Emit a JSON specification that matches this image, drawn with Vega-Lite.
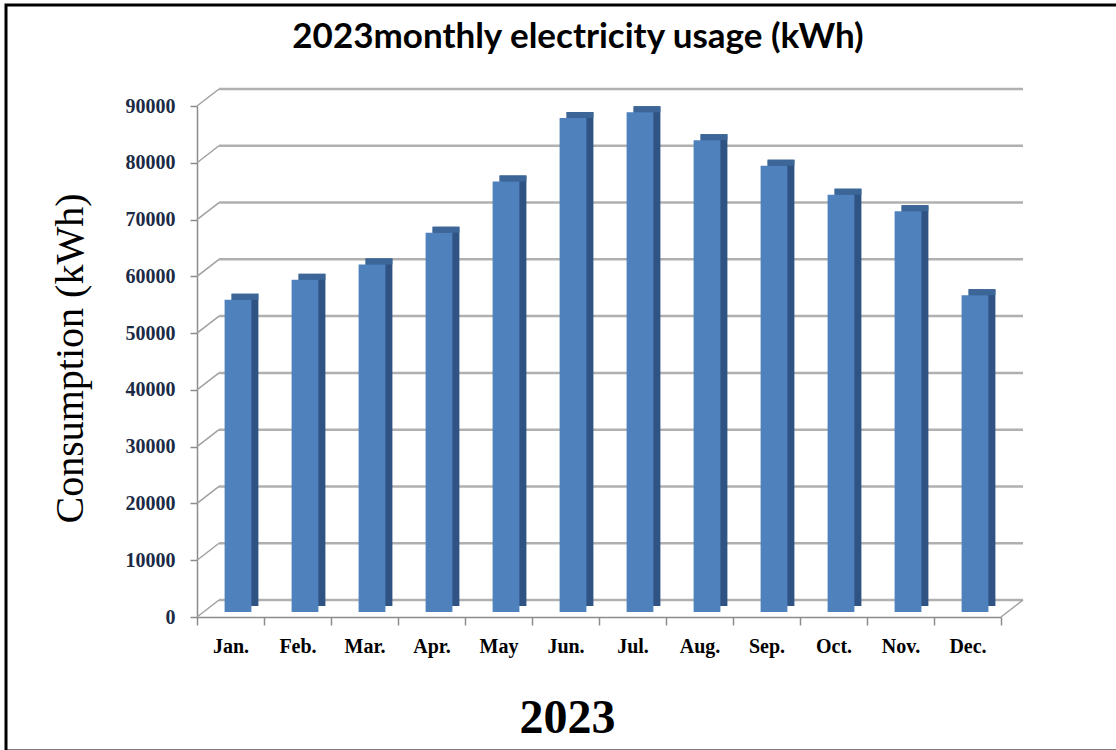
{
  "$schema": "https://vega.github.io/schema/vega-lite/v6.json",
  "autosize": {"type": "none"},
  "padding": {"left": 6, "top": 5, "right": 0, "bottom": 0},
  "width": 1112,
  "height": 746,
  "background": "white",
  "config": {"view": {"stroke": "black", "strokeWidth": 3}},
  "title": {
    "text": "2023monthly electricity usage (kWh)",
    "font": "Lato",
    "fontSize": 35,
    "fontWeight": "bold",
    "color": "black",
    "anchor": "middle",
    "frame": "group",
    "baseline": "alphabetic",
    "offset": -78,
    "dx": 16
  },
  "datasets": {
    "usage": [
      {"month": "Jan.", "kwh": 55000},
      {"month": "Feb.", "kwh": 58500},
      {"month": "Mar.", "kwh": 61200},
      {"month": "Apr.", "kwh": 66800},
      {"month": "May", "kwh": 75800},
      {"month": "Jun.", "kwh": 87000},
      {"month": "Jul.", "kwh": 88000},
      {"month": "Aug.", "kwh": 83100},
      {"month": "Sep.", "kwh": 78600},
      {"month": "Oct.", "kwh": 73500},
      {"month": "Nov.", "kwh": 70600},
      {"month": "Dec.", "kwh": 55800}
    ],
    "grid": [
      {"g": 0}, {"g": 10000}, {"g": 20000}, {"g": 30000}, {"g": 40000},
      {"g": 50000}, {"g": 60000}, {"g": 70000}, {"g": 80000}, {"g": 90000}
    ]
  },
  "resolve": {"scale": {"x": "independent"}, "axis": {"x": "independent"}},
  "layer": [
    {
      "data": {"name": "grid"},
      "mark": {"type": "rule", "color": "#b0b0b0", "strokeWidth": 2.5, "xOffset": 22, "x2Offset": 22, "yOffset": -17},
      "encoding": {
        "x": {"datum": 0, "type": "quantitative", "scale": {"domain": [0, 1], "range": [191, 995]}, "axis": null},
        "x2": {"datum": 1},
        "y": {
          "field": "g",
          "type": "quantitative",
          "scale": {"domain": [0, 90000], "range": [612, 101], "nice": false, "zero": false},
          "axis": {
            "orient": "left",
            "offset": -191,
            "values": [0, 10000, 20000, 30000, 40000, 50000, 60000, 70000, 80000, 90000],
            "format": "d",
            "title": "Consumption (kWh)",
            "titleFont": "Liberation Serif",
            "titleFontSize": 40,
            "titleFontWeight": "normal",
            "titleColor": "black",
            "titleAngle": -90,
            "titleX": -115,
            "titleY": 353,
            "titleAlign": "center",
            "titleBaseline": "alphabetic",
            "labelFont": "Liberation Serif",
            "labelFontSize": 20,
            "labelFontWeight": "bold",
            "labelColor": "#1b2a45",
            "labelPadding": 15,
            "tickSize": 7,
            "tickColor": "#8c8c8c",
            "tickWidth": 1.5,
            "domainColor": "#8c8c8c",
            "domainWidth": 1.5,
            "grid": false
          }
        }
      }
    },
    {
      "data": {"name": "grid"},
      "mark": {"type": "rule", "color": "#a0a0a0", "strokeWidth": 1.5, "x2Offset": 22, "y2Offset": -17},
      "encoding": {
        "x": {"datum": 0, "type": "quantitative", "scale": {"domain": [0, 1], "range": [191, 995]}, "axis": null},
        "x2": {"datum": 0},
        "y": {"field": "g", "type": "quantitative"},
        "y2": {"field": "g"}
      }
    },
    {
      "data": {"name": "grid"},
      "transform": [{"filter": "datum.g == 0"}],
      "mark": {"type": "rule", "color": "#a0a0a0", "strokeWidth": 1.5, "x2Offset": 22, "y2Offset": -17},
      "encoding": {
        "x": {"datum": 1, "type": "quantitative", "scale": {"domain": [0, 1], "range": [191, 995]}, "axis": null},
        "x2": {"datum": 1},
        "y": {"field": "g", "type": "quantitative"},
        "y2": {"field": "g"}
      }
    },
    {
      "data": {"name": "usage"},
      "layer": [
        {
          "mark": {"type": "bar", "color": "#2f5382", "width": {"band": 0.4}, "xOffset": 14.5, "yOffset": -11, "y2Offset": -11}
        },
        {
          "mark": {"type": "bar", "color": "#3c6698", "width": {"band": 0.4}, "xOffset": 14.5, "yOffset": -11, "y2Offset": -5},
          "encoding": {"y2": {"field": "kwh"}}
        },
        {
          "mark": {"type": "bar", "color": "#4f81bd", "width": {"band": 0.4}, "xOffset": 7.5, "yOffset": -5, "y2Offset": -5}
        }
      ],
      "encoding": {
        "x": {
          "field": "month",
          "type": "nominal",
          "sort": null,
          "scale": {"type": "band", "range": [191, 995], "paddingInner": 0, "paddingOuter": 0},
          "axis": {
            "orient": "bottom",
            "offset": -134,
            "title": "2023",
            "titleFont": "Liberation Serif",
            "titleFontSize": 48,
            "titleFontWeight": "bold",
            "titleColor": "black",
            "titleX": 561,
            "titleY": 115,
            "titleAlign": "center",
            "titleBaseline": "alphabetic",
            "labelFont": "Liberation Serif",
            "labelFontSize": 20,
            "labelFontWeight": "bold",
            "labelColor": "black",
            "labelAngle": 0,
            "labelPadding": 11,
            "tickBand": "extent",
            "tickSize": 8,
            "tickColor": "#8c8c8c",
            "tickWidth": 1.5,
            "domainColor": "#8c8c8c",
            "domainWidth": 1.5,
            "grid": false
          }
        },
        "y": {"field": "kwh", "type": "quantitative"}
      }
    }
  ]
}
